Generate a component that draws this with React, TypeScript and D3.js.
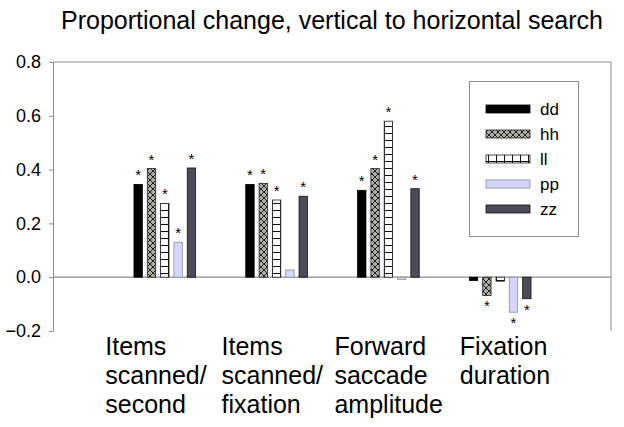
import React, { useEffect, useRef } from 'react';
import * as d3 from 'd3';

const title = 'Proportional change, vertical to horizontal search';
const categories = ['Items scanned/second', 'Items scanned/fixation', 'Forward saccade amplitude', 'Fixation duration'];
const categoryLines = [
  ['Items', 'scanned/', 'second'],
  ['Items', 'scanned/', 'fixation'],
  ['Forward', 'saccade', 'amplitude'],
  ['Fixation', 'duration'],
];
const seriesNames = ['dd', 'hh', 'll', 'pp', 'zz'];
const dd = [0.345, 0.345, 0.323, -0.012];
const hh = [0.404, 0.349, 0.404, -0.068];
const ll = [0.274, 0.287, 0.58, -0.015];
const pp = [0.13, 0.027, -0.008, -0.13];
const zz = [0.406, 0.301, 0.329, -0.08];
// significance stars
const ddSig = [true, true, true, false];
const hhSig = [true, true, true, true];
const llSig = [true, true, true, false];
const ppSig = [true, false, false, true];
const zzSig = [true, true, true, true];
const yTicks = [-0.2, 0, 0.2, 0.4, 0.6, 0.8];

const FONT = '"Liberation Sans", Arial, sans-serif';

const draw = (node: SVGSVGElement) => {
  const svg = d3.select(node);
  svg.selectAll('*').remove();

  const values: Record<string, number[]> = { dd, hh, ll, pp, zz };
  const sigs: Record<string, boolean[]> = { dd: ddSig, hh: hhSig, ll: llSig, pp: ppSig, zz: zzSig };

  const left = 53, right = 611, top = 62, bottom = 331;

  const y = d3.scaleLinear().domain([-0.2, 0.8]).range([bottom, top]);
  const x = d3.scalePoint<string>().domain(categories).range([left, right + 1]).padding(1);
  const inner = d3.scaleBand<string>().domain(seriesNames).range([-33.3, 33.3]).paddingInner(0.37).paddingOuter(0.185);
  const labelX = d3.scalePoint<string>().domain(categories).range([156, 505]);

  // patterns
  const defs = svg.append('defs');
  const hp = defs.append('pattern').attr('id', 'pat-hh').attr('patternUnits', 'userSpaceOnUse')
    .attr('width', 6).attr('height', 6);
  hp.append('rect').attr('width', 6).attr('height', 6).attr('fill', '#aeaea6');
  hp.append('path').attr('d', 'M0,0L6,6M6,0L0,6').attr('stroke', '#111').attr('stroke-width', 0.9);
  const lp = defs.append('pattern').attr('id', 'pat-ll').attr('patternUnits', 'userSpaceOnUse')
    .attr('width', 8).attr('height', 7);
  lp.append('rect').attr('width', 8).attr('height', 7).attr('fill', '#fff');
  lp.append('path').attr('d', 'M0,0.5H8M0.5,0V7').attr('stroke', '#111').attr('stroke-width', 1);

  const fills: Record<string, string> = { dd: '#000', hh: 'url(#pat-hh)', ll: 'url(#pat-ll)', pp: '#d6d6fa', zz: '#4b4b59' };
  const strokes: Record<string, string> = { dd: '#000', hh: '#222', ll: '#222', pp: '#8a8a9a', zz: '#111' };

  // title
  svg.append('text').attr('x', 332).attr('y', 29).attr('text-anchor', 'middle')
    .style('font-family', FONT).style('font-size', '25px').attr('fill', '#000').text(title);

  // frame
  svg.append('path').attr('d', `M${left},${top}H${right}V${bottom}`)
    .attr('fill', 'none').attr('stroke', '#8c8c8c').attr('stroke-width', 1);

  // y axis
  const yAxis = svg.append('g').attr('transform', `translate(${left},0)`)
    .call(d3.axisLeft(y).tickValues(yTicks).tickFormat(d3.format('.1f')).tickSize(4).tickPadding(8).tickSizeOuter(0));
  yAxis.select('.domain').attr('stroke', '#8c8c8c');
  yAxis.selectAll('.tick line').attr('stroke', '#8c8c8c');
  yAxis.selectAll('.tick text').style('font-family', FONT).style('font-size', '18px').attr('fill', '#000');

  // zero line
  svg.append('line').attr('x1', left).attr('x2', right).attr('y1', y(0)).attr('y2', y(0))
    .attr('stroke', '#8c8c8c').attr('stroke-width', 1.2);

  // bars
  seriesNames.forEach((s) => {
    const g = svg.append('g');
    categories.forEach((c, i) => {
      const v = values[s][i];
      const bx = (x(c) as number) + (inner(s) as number);
      g.append('rect')
        .attr('x', bx).attr('width', inner.bandwidth())
        .attr('y', y(Math.max(0, v))).attr('height', Math.abs(y(v) - y(0)))
        .attr('fill', fills[s]).attr('stroke', strokes[s]).attr('stroke-width', 0.8);
      if (sigs[s][i]) {
        g.append('text')
          .attr('x', bx + inner.bandwidth() / 2)
          .attr('y', v >= 0 ? y(v) - 4 : y(v) + 16)
          .attr('text-anchor', 'middle')
          .style('font-family', FONT).style('font-size', '15px').attr('fill', '#000')
          .text('*');
      }
    });
  });

  // category labels
  categories.forEach((c, i) => {
    const t = svg.append('text').style('font-family', FONT).style('font-size', '25px').attr('fill', '#000');
    categoryLines[i].forEach((ln, k) => {
      t.append('tspan').attr('x', 0).attr('y', 354.5 + k * 29).text(ln);
    });
    const w = (t.node() as SVGTextElement).getBBox().width;
    t.selectAll('tspan').attr('x', (labelX(c) as number) - w / 2);
  });

  // legend
  const lg = svg.append('g');
  lg.append('rect').attr('x', 469.5).attr('y', 81.5).attr('width', 109).attr('height', 155)
    .attr('fill', '#fff').attr('stroke', '#8c8c8c').attr('stroke-width', 1);
  seriesNames.forEach((s, k) => {
    const cy = 109 + k * 25;
    lg.append('rect').attr('x', 486).attr('y', cy - 4).attr('width', 44).attr('height', 8)
      .attr('fill', fills[s]).attr('stroke', strokes[s]).attr('stroke-width', 0.8);
    lg.append('text').attr('x', 540).attr('y', cy + 6.3)
      .style('font-family', FONT).style('font-size', '17px').attr('fill', '#000').text(s);
  });
};

const App = () => {
  const ref = useRef<SVGSVGElement>(null);
  useEffect(() => {
    if (ref.current) draw(ref.current);
  }, []);
  return (
    <svg ref={ref} width={624} height={427}
      style={{ position: 'absolute', left: 0, top: 0, background: '#fff' }} />
  );
};

export default App;
